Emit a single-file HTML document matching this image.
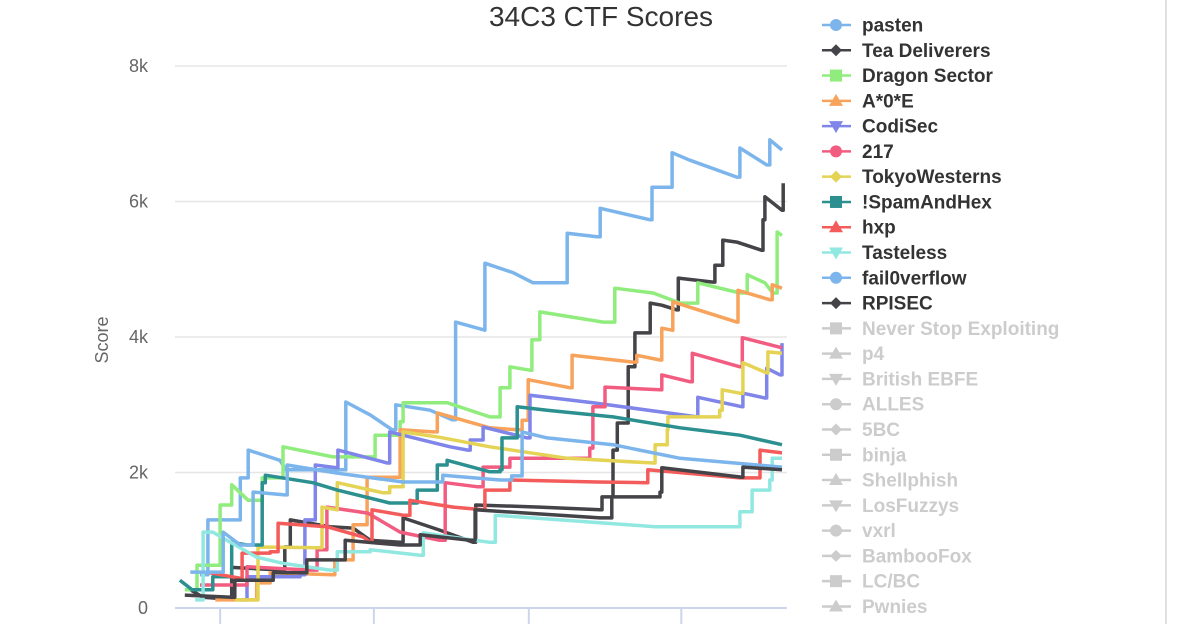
<!DOCTYPE html>
<html><head><meta charset="utf-8">
<style>
html,body{margin:0;padding:0;background:#fff;}
body{width:1200px;height:624px;overflow:hidden;font-family:"Liberation Sans",sans-serif;}
</style></head>
<body>
<svg id="chart" width="1200" height="624" xmlns="http://www.w3.org/2000/svg" font-family="Liberation Sans, sans-serif">
<text x="601" y="26" text-anchor="middle" font-size="28" fill="#333">34C3 CTF Scores</text>
<text x="0" y="0" transform="translate(108,340) rotate(-90)" text-anchor="middle" font-size="18" fill="#666">Score</text>
<line x1="1166" y1="0" x2="1166" y2="624" stroke="#e0e0e0" stroke-width="2"/>
<g id="grid"></g><g id="series"></g><g id="legend"></g>
</svg>
<script>
const yTicks=[0,2000,4000,6000,8000];
const yTickLabels=["0","2k","4k","6k","8k"];
const xTicks=[7.4,32.6,58,83];
const names=["pasten","Tea Deliverers","Dragon Sector","A*0*E","CodiSec","217","TokyoWesterns","!SpamAndHex","hxp","Tasteless","fail0verflow","RPISEC","Never Stop Exploiting","p4","British EBFE","ALLES","5BC","binja","Shellphish","LosFuzzys","vxrl","BambooFox","LC/BC","Pwnies"];
const colors=["#7cb5ec","#434348","#90ed7d","#f7a35c","#8085e9","#f15c80","#e4d354","#2b908f","#f45b5b","#91e8e1","#7cb5ec","#434348"];
const pasten=[[4.1,490],[5.4,1300],[10.7,1920],[12,2330],[17.2,2180],[18.2,2040],[27,2040],[28,3040],[32,2850],[35.6,2630],[36.2,3000],[41.8,2920],[45.4,2780],[46,4220],[50.8,4100],[50.8,5090],[55.4,4950],[58.7,4800],[63.6,4800],[64.3,5530],[69.2,5480],[69.7,5900],[77.9,5730],[78.2,6210],[81.5,6720],[84.4,6610],[92.1,6360],[92.6,6790],[97,6540],[97.5,6910],[99.5,6760]];
const teaDeliverers=[[2.5,270],[4.6,160],[9,130],[9.3,600],[17.7,560],[18,900],[18.9,1300],[25.4,1200],[29.2,1180],[32,1000],[36.9,970],[37.4,1330],[43.4,1150],[48.9,970],[49.3,1520],[59.8,1490],[69.7,1450],[70,1640],[71.8,2330],[72.5,2730],[74.3,3560],[75.4,4060],[77.9,4500],[79.8,4470],[82.3,4400],[82.5,4870],[88.2,4810],[88.5,5060],[89.8,5430],[92.1,5400],[96.2,5280],[96.4,5730],[96.7,6070],[99.5,5870],[99.7,6270]];
const dragonSector=[[1.6,270],[3.6,630],[7.4,1520],[9.3,1820],[12,1590],[14.3,1920],[17.2,1920],[17.7,2380],[25.9,2230],[32.8,2550],[36.9,2750],[37.4,3030],[44.6,3030],[51.6,2820],[53,2820],[53.3,3250],[54.9,3560],[58.2,3510],[58.5,3960],[59.8,4370],[70.2,4220],[72.1,4720],[78.4,4650],[82.8,4500],[85.6,4500],[85.7,4800],[92.6,4650],[93.8,4920],[96.7,4800],[98,4650],[98.7,5550],[99.5,5500]];
const a0e=[[6.6,120],[13.4,370],[15.6,520],[25.9,490],[26.2,710],[28.7,710],[29.2,1230],[30.8,1230],[31.5,1930],[33.6,1930],[36.9,2630],[42.3,2600],[43,2880],[51.6,2660],[56.1,2630],[56.9,2770],[57.9,3370],[64.8,3250],[65.1,3730],[75.1,3630],[75.7,3730],[79.5,3660],[79.8,4130],[81.5,4100],[81.6,4520],[92.1,4220],[92.3,4690],[97.5,4550],[97.9,4770],[99.5,4720]];
const codiSec=[[10.7,120],[11.8,460],[20.5,490],[21.3,1300],[23,2110],[26.6,2070],[26.7,2330],[34.8,2140],[35.2,2600],[45.1,2380],[48,2330],[48.4,2480],[50.5,2670],[57.7,2510],[58.2,3140],[68.5,3030],[85.6,2820],[85.7,3110],[93,2970],[93.1,3170],[96.7,3100],[97,3540],[99.2,3440],[99.5,3910]];
const s217=[[4.1,340],[11.8,610],[22.1,560],[23.3,860],[24.6,860],[24.9,1490],[31.6,1400],[36.9,1120],[43.4,1000],[44.3,1850],[49.5,1790],[50.5,2080],[54.9,2210],[68,2360],[68.5,2970],[70.2,2970],[70.5,3260],[79.5,3220],[79.8,3440],[84.4,3340],[84.8,3760],[92.6,3560],[93,3990],[99.5,3840]];
const tokyoWesterns=[[9.8,120],[13.4,120],[13.6,900],[23.8,890],[24.1,1490],[26.6,1450],[26.6,1850],[34.1,1700],[35.2,1790],[37.4,2600],[43.4,2520],[51.6,2380],[64.3,2210],[78.4,2140],[78.7,2410],[80.7,2630],[80.8,2820],[89.3,2920],[89.7,3220],[92.6,3170],[93.1,3620],[97,3470],[97.2,3780],[99.5,3760]];
const spamAndHex=[[0.8,410],[2.8,270],[6.2,460],[9.3,970],[11.8,930],[14.3,1850],[14.8,1960],[22.6,1850],[26.6,1740],[35.2,1550],[39.7,1740],[43,2110],[44.6,2180],[51.6,2010],[53.3,2040],[53.6,2510],[56.1,2970],[61,2920],[71.8,2820],[82.8,2660],[92.6,2550],[99.5,2410]];
const hxp=[[5.7,520],[10.7,440],[11,810],[15.6,830],[16.9,1250],[24.9,1200],[30.8,1050],[32,970],[32.3,1450],[37.4,1370],[38.5,1590],[45.6,1490],[50.5,1450],[50.8,1740],[54.9,1890],[69.2,1860],[77.4,1850],[77.5,2040],[92.6,1920],[95.6,1920],[95.9,2330],[99.5,2290]];
const tasteless=[[3.3,120],[4.6,1120],[6.2,1120],[9.3,960],[13.4,750],[17.7,660],[25.4,560],[26.6,830],[32,860],[40.2,780],[40.7,1110],[45.1,1050],[51.6,970],[52.5,1370],[63.1,1300],[78.7,1200],[92.6,1420],[93.9,1420],[94.6,1740],[97.5,1890],[97.9,2210],[99.5,2210]];
const fail0verflow=[[2.5,530],[5.7,530],[7.9,1120],[10.7,930],[12.8,1710],[18,1670],[18.4,2110],[26.6,1990],[37.4,1860],[43.9,1960],[53.3,1890],[55.2,1950],[56.9,2600],[61,2510],[71.8,2410],[82.8,2210],[99.5,2080]];
const rpisec=[[1.6,190],[9.3,160],[9.8,410],[15.6,410],[16.1,520],[21.3,520],[21.6,710],[27,710],[27.9,1000],[36.9,930],[40.2,1080],[48.4,1000],[49.2,1450],[69.7,1330],[71.6,1640],[79.5,1710],[79.8,2070],[93,1930],[93.1,2080],[99.5,2040]];
const seriesData=[pasten,teaDeliverers,dragonSector,a0e,codiSec,s217,tokyoWesterns,spamAndHex,hxp,tasteless,fail0verflow,rpisec];

const NS="http://www.w3.org/2000/svg";
const X0=175,X1=785,Y0=608,Y8=66;
function xs(t){return X0+(X1-X0)*t/100;}
function ys(v){return Y0-(Y0-Y8)*v/8000;}
function mk(tag,attrs,parent){const e=document.createElementNS(NS,tag);for(const k in attrs)e.setAttribute(k,attrs[k]);parent.appendChild(e);return e;}
const grid=document.getElementById('grid');
yTicks.forEach((v,i)=>{
  if(v>0){const l=mk('line',{x1:X0,x2:787,y1:ys(v),y2:ys(v),stroke:'#e6e6e6','stroke-width':1.5},grid);
  
  }
  const t=mk('text',{x:148,y:ys(v)+6,'text-anchor':'end','font-size':18,fill:'#666'},grid);
  t.textContent=yTickLabels[i];
  
  
});
const ax=mk('line',{x1:X0,x2:787,y1:Y0,y2:Y0,stroke:'#ccd6eb','stroke-width':2},grid);


xTicks.forEach(t=>{const l=mk('line',{x1:xs(t),x2:xs(t),y1:Y0,y2:624,stroke:'#ccd6eb','stroke-width':2},grid);
  
  });
const sg=document.getElementById('series');
seriesData.forEach((d,i)=>{
  const pts=[];
  d.forEach((q,j)=>{
    if(j>0&&q[1]>d[j-1][1]) pts.push([q[0],d[j-1][1]]);
    pts.push(q);
  });
  const p=mk('polyline',{points:pts.map(q=>xs(q[0]).toFixed(1)+','+ys(q[1]).toFixed(1)).join(' '),fill:'none',stroke:colors[i],'stroke-width':3.5,'stroke-linejoin':'round'},sg);
  
  
});
const lg=document.getElementById('legend');
const sym=['circle','diamond','square','triangle','tridown'];
names.forEach((n,i)=>{
  const y=25+i*25.28;
  const on=i<12;const c=on?colors[i]:'#cccccc';
  const g=mk('g',{},lg);
  
  
  mk('line',{x1:822,x2:851,y1:y,y2:y,stroke:c,'stroke-width':2.5},g);
  const s=sym[i%5],cx=836;
  if(s==='circle')mk('circle',{cx:cx,cy:y,r:6,fill:c},g);
  else if(s==='diamond')mk('path',{d:`M${cx} ${y-6}L${cx+6} ${y}L${cx} ${y+6}L${cx-6} ${y}Z`,fill:c},g);
  else if(s==='square')mk('rect',{x:cx-6,y:y-6,width:12,height:12,fill:c},g);
  else if(s==='triangle')mk('path',{d:`M${cx} ${y-7}L${cx+7} ${y+5}L${cx-7} ${y+5}Z`,fill:c},g);
  else mk('path',{d:`M${cx-7} ${y-5}L${cx+7} ${y-5}L${cx} ${y+7}Z`,fill:c},g);
  const t=mk('text',{x:862,y:y+6.5,'font-size':19,'font-weight':'bold',fill:on?'#333':'#cccccc'},g);
  t.textContent=n;
});
</script>
</body></html>
